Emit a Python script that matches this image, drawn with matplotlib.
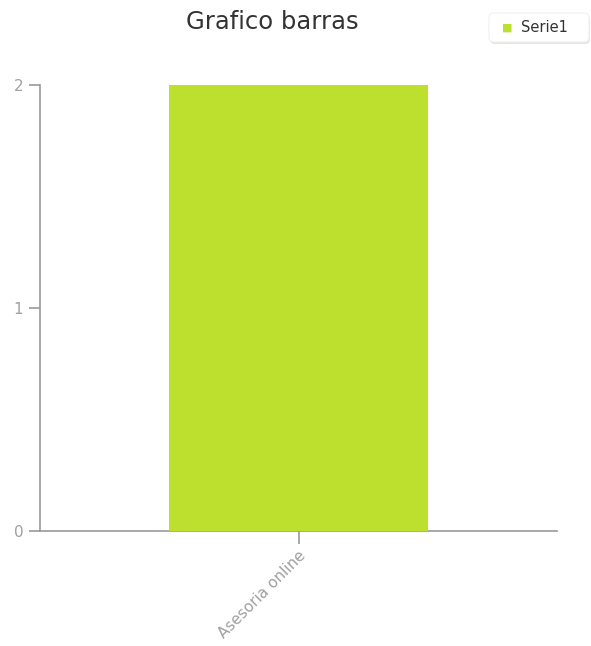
import matplotlib
matplotlib.use("Agg")
import matplotlib.pyplot as plt
from matplotlib.patches import FancyBboxPatch

categories = ["Asesoria online"]
serie1 = [2]
yticks = [0, 1, 2]

bar_color = "#bde02e"
axis_color = "#9a9a9a"
label_color = "#a0a0a0"

fig = plt.figure(figsize=(5.91, 6.46), dpi=100)
W, H = 591, 646
ax = fig.add_axes([40 / W, 1 - 531 / H, 517 / W, 446 / H])

xs = list(range(len(categories)))
ax.bar(xs, serie1, width=1.0, color=bar_color, zorder=3, label="Serie1")
ax.set_xlim(-1, len(categories))
ax.set_ylim(0, 2)

ax.set_yticks(yticks)
ax.set_yticklabels([str(v) for v in yticks])
ax.set_xticks(xs)
ax.set_xticklabels(categories, rotation=45, ha="right", va="top", rotation_mode="anchor")

for s in ["top", "right"]:
    ax.spines[s].set_visible(False)
for s in ["left", "bottom"]:
    ax.spines[s].set_color(axis_color)
    ax.spines[s].set_linewidth(1.2)
ax.tick_params(axis="y", length=8, width=1.2, color=axis_color, labelcolor=label_color,
               labelsize=11, pad=4)
ax.tick_params(axis="x", length=9, width=1.2, color=axis_color, labelcolor=label_color,
               labelsize=11, pad=3)

fig.text(272 / W, 1 - 22 / H, "Grafico barras", ha="center", va="center",
         fontsize=17.5, color="#333333")

# legend box with soft shadow
shadow = FancyBboxPatch((490 / W, 1 - 44 / H), 100 / W, 29 / H,
                        boxstyle="round,pad=0,rounding_size=0.008",
                        transform=fig.transFigure, facecolor="#e4e4e4",
                        edgecolor="none", zorder=1)
box = FancyBboxPatch((489 / W, 1 - 42 / H), 100 / W, 29 / H,
                     boxstyle="round,pad=0,rounding_size=0.008",
                     transform=fig.transFigure, facecolor="white",
                     edgecolor="#f0f0f0", linewidth=0.8, zorder=2)
fig.patches.extend([shadow, box])
fig.text(507 / W, 1 - 28 / H, "\u25a0", ha="center", va="center", fontsize=8,
         color=bar_color, zorder=3)
fig.text(521 / W, 1 - 28 / H, "Serie1", ha="left", va="center", fontsize=10.5,
         color="#333333", zorder=3)

fig.savefig("out.png", dpi=100)
